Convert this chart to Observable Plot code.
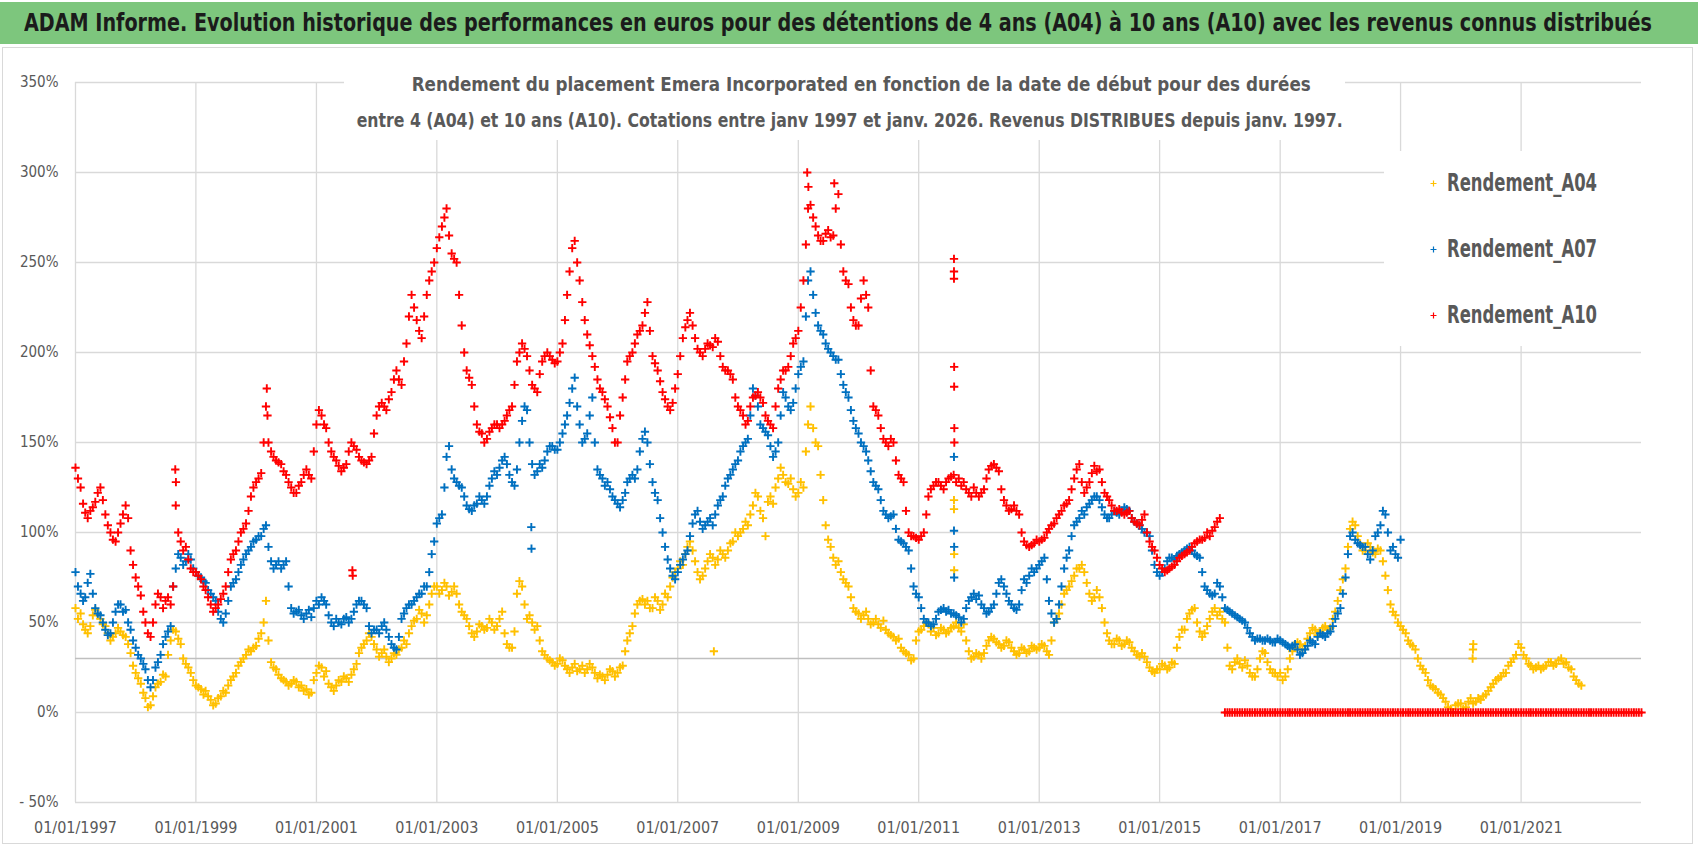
<!DOCTYPE html>
<html><head><meta charset="utf-8">
<script src="https://cdn.jsdelivr.net/npm/d3@7"></script>
<script src="https://cdn.jsdelivr.net/npm/@observablehq/plot@0.6"></script>
<style>
body{margin:0;background:#fff;}
#wrap{position:relative;width:1698px;height:857px;overflow:hidden;font-family:"Liberation Sans Narrow","Arial Narrow","DejaVu Sans Condensed",sans-serif;}
#banner{position:absolute;left:0;top:2px;width:1698px;height:42px;background:#7DC67D;}
#title{position:absolute;left:24px;top:2px;line-height:42px;font-weight:bold;font-size:25px;color:#1b1b1b;white-space:nowrap;transform-origin:0 50%;}
#frame{position:absolute;left:2px;top:47px;width:1689px;height:795px;border:1px solid #D9D9D9;}
#chart{position:absolute;left:0;top:48px;}
#subbox{position:absolute;left:344px;top:62px;width:1001px;height:78px;background:#fff;}
.sub{position:absolute;white-space:nowrap;font-weight:bold;font-size:20px;color:#595959;line-height:36px;transform-origin:50% 50%;}
#legend{position:absolute;left:1384px;top:151px;width:262px;height:195px;background:#fff;}
.lg{position:absolute;left:46px;height:32px;line-height:32px;font-weight:bold;font-size:25px;color:#595959;white-space:nowrap;}
.lg svg{position:absolute;left:0;top:13px;}
.lg span{position:absolute;left:17px;top:0;}
</style></head>
<body>
<div id="wrap">
  <div id="banner"></div>
  <div id="title">ADAM Informe. Evolution historique des performances en euros pour des détentions de 4 ans (A04) à 10 ans (A10) avec les revenus connus distribués</div>
  <div id="frame"></div>
  <div id="chart"></div>
  <div id="subbox"></div>
  <div class="sub" id="sub1">Rendement du placement Emera Incorporated en fonction de la date de début pour des durées</div>
  <div class="sub" id="sub2">entre 4 (A04) et 10 ans (A10). Cotations entre janv 1997 et janv. 2026. Revenus DISTRIBUES depuis janv. 1997.</div>
  <div id="legend"></div>
</div>
<script>
// ---- data (percent). Values on the 1st of each month, and values on the 16th ("Mid") ----
const seriesNames = ["Rendement_A04", "Rendement_A07", "Rendement_A10"];
const seriesColors = ["#FFC000", "#0070C0", "#FF0000"];

const a04Start = "1997-01-01";
const a04 = [
  58,55,46,48,57,52,48,40,44,45,42,33,
  22,16,8,4,14,17,20,40,45,38,27,22,
  15,13,12,7,5,9,11,18,22,28,32,34,
  37,44,62,28,24,19,17,16,17,15,13,11,
  22,25,23,14,15,17,19,21,27,36,40,42,
  35,33,31,30,32,36,38,48,52,55,54,66,
  70,68,70,67,66,56,52,44,45,48,47,50,
  48,56,38,36,66,70,52,50,48,34,30,28,
  27,29,24,25,23,26,24,25,19,20,21,23,
  22,26,40,48,60,63,62,58,62,60,64,75,
  80,82,92,90,78,76,84,86,85,88,90,95,
  98,102,104,115,120,108,117,116,130,132,127,124,
  122,125,160,158,148,118,96,86,84,74,70,58,
  55,54,52,50,49,51,44,42,41,34,32,30,
  45,48,49,47,44,46,45,48,47,49,34,31,
  32,33,40,41,38,37,39,34,33,35,34,36,
  36,37,32,50,55,66,70,76,80,78,66,64,
  64,50,40,38,40,38,39,34,31,31,25,22,
  24,26,25,27,42,46,55,58,45,44,52,58,
  56,50,26,28,27,29,22,20,30,33,24,22,
  22,20,30,36,38,37,44,46,45,48,47,56,
  68,80,102,104,94,90,92,88,90,76,60,54,
  48,44,38,35,26,22,15,13,10,6,2,4,
  5,3,8,6,7,10,14,18,20,22,28,32,
  36,30,26,25,24,26,28,27,30,28,24,18,
  15
];
const a04Mid = [
  52,49,44,54,54,49,44,42,47,43,38,26,
  19,11,3,9,16,21,32,46,41,30,25,18,
  14,10,9,4,8,12,15,20,26,30,35,36,
  41,50,40,25,21,18,15,18,14,12,10,18,
  26,20,16,12,18,20,17,24,33,38,44,38,
  31,35,28,33,35,40,44,51,57,50,60,70,
  66,72,65,70,60,54,48,42,49,46,52,46,
  52,44,36,45,73,60,54,46,40,32,29,26,
  30,26,22,27,24,22,27,22,21,18,24,20,
  25,34,44,55,62,60,58,64,57,66,70,78,
  84,88,95,84,74,80,88,82,90,86,94,100,
  100,106,110,122,112,98,120,125,136,128,130,120,
  128,145,170,150,132,104,92,82,78,72,64,56,
  52,56,49,52,47,46,43,40,36,33,29,40,
  46,50,45,43,47,44,47,50,45,40,30,33,
  30,37,42,39,36,40,36,32,36,33,37,35,
  38,34,40,52,60,68,73,80,82,72,62,68,
  58,44,38,41,37,40,36,32,33,28,23,24,
  27,24,28,36,46,52,57,50,42,48,56,54,
  52,36,24,30,25,26,20,24,34,28,22,20,
  18,24,34,39,35,41,47,43,47,46,52,62,
  74,92,106,98,90,94,89,91,84,68,56,50,
  46,40,37,30,24,18,14,11,8,3,0,5,
  2,6,5,8,9,12,16,19,22,26,30,38,
  32,27,24,26,25,28,26,29,27,25,20,16
];
const a04Extra = [["2007-08-08",34],["2011-08-03",118],["2011-08-03",113],["2011-08-04",88],["2011-08-04",79],["2020-03-13",30],["2020-03-15",35],["2020-03-17",38]];

const a07Start = "1997-01-01";
const a07 = [
  78,66,64,77,58,54,46,44,56,60,57,46,
  36,30,24,14,25,32,42,48,80,86,84,85,
  78,75,72,66,62,52,55,70,74,82,88,92,
  96,98,104,84,82,80,84,58,56,54,55,53,
  62,64,60,50,52,49,53,52,60,62,58,44,
  46,48,46,38,35,52,58,60,64,66,70,88,
  105,110,142,135,128,125,115,112,116,118,120,130,
  132,140,138,128,135,162,168,138,134,136,145,148,
  146,155,165,180,170,150,155,175,135,130,128,120,
  116,118,128,132,135,152,150,128,118,100,85,76,
  78,85,90,105,112,102,106,104,115,120,130,135,
  140,148,152,180,170,158,154,142,150,178,170,172,
  188,195,240,232,215,210,202,198,196,182,175,162,
  155,148,140,128,124,112,108,110,96,94,90,70,
  64,52,50,49,56,58,57,55,53,52,62,66,
  65,58,56,60,72,70,62,58,60,74,76,78,
  82,86,62,50,60,80,90,104,108,110,116,120,
  118,110,108,112,110,114,112,106,104,100,98,82,
  76,80,86,85,88,90,92,88,86,70,66,66,
  70,58,56,54,52,50,44,40,41,40,40,39,
  40,38,36,38,32,35,40,38,44,42,45,52,
  58,75,98,96,93,92,85,98,104,110,90,88,
  96
];
const a07Mid = [
  70,62,72,66,55,50,43,50,60,56,50,40,
  32,27,18,18,28,38,45,70,88,82,88,80,
  76,73,68,64,56,50,62,72,78,85,90,95,
  98,102,92,80,84,82,70,55,57,52,57,58,
  60,62,54,48,50,52,50,56,62,60,48,46,
  44,50,42,36,42,55,60,62,66,70,78,95,
  108,125,148,130,126,120,113,115,120,116,126,134,
  136,142,132,126,150,170,150,132,138,140,148,146,
  150,160,172,186,160,152,165,150,132,126,124,118,
  114,122,130,130,145,156,138,122,108,92,80,74,
  82,88,98,110,106,104,108,110,118,126,132,138,
  145,150,165,176,160,156,148,145,165,175,168,180,
  192,220,245,222,212,205,200,196,188,178,168,158,
  150,145,134,126,118,110,109,102,95,92,80,66,
  58,50,48,52,57,56,55,54,50,58,64,63,
  60,55,58,66,74,66,60,57,68,72,80,80,
  84,74,55,52,70,86,98,106,112,114,118,120,
  114,108,110,111,112,113,108,105,102,100,90,78,
  78,84,86,87,89,91,90,87,78,68,65,72,
  64,57,55,53,51,47,42,41,40,41,39,41,
  39,37,37,35,33,37,39,42,43,44,48,55,
  66,88,100,94,92,88,90,100,112,100,92,86
];
const a07Extra = [["2004-07-27",103],["2004-07-28",91],["2011-08-03",142],["2011-08-03",101],["2011-08-04",92],["2011-08-04",75]];

const a10Start = "1997-01-01";
const a10 = [
  136,125,111,112,117,125,110,100,95,105,115,90,
  75,65,50,42,60,64,62,60,115,95,92,80,
  78,74,68,60,58,63,70,85,90,100,105,120,
  128,133,170,145,140,138,132,125,122,128,135,130,
  160,165,158,145,140,134,138,150,146,140,138,142,
  165,172,168,178,190,182,205,232,218,208,232,245,
  258,270,280,255,250,215,190,182,160,155,152,158,
  160,160,165,170,195,205,198,182,178,195,200,196,
  195,205,232,258,250,228,210,198,185,178,170,158,
  150,175,195,200,210,215,228,198,190,178,170,172,
  188,208,218,215,202,198,205,203,206,192,190,185,
  170,165,162,175,178,172,162,158,180,190,192,205,
  212,240,280,275,265,262,268,265,288,245,238,218,
  215,240,225,170,165,152,148,150,132,128,100,98,
  96,100,120,126,128,124,130,132,130,128,122,125,
  120,124,135,138,134,118,112,115,110,95,92,94,
  95,97,102,105,110,115,118,130,138,122,128,137,
  135,122,118,112,113,110,112,106,104,110,95,90,
  82,78,80,82,86,88,90,94,96,97,98,103,
  108
];
const a10Mid = [
  130,116,108,114,122,118,104,96,100,110,108,82,
  70,56,44,50,66,58,64,70,100,90,85,78,
  76,70,64,56,60,66,78,88,95,102,112,125,
  130,150,150,142,139,134,128,122,126,132,132,145,
  168,160,150,142,137,136,145,148,142,139,140,155,
  170,170,174,185,185,195,220,225,212,220,240,250,
  264,275,265,252,232,200,186,170,156,150,156,160,
  158,162,168,182,200,202,190,180,188,198,198,194,
  200,218,245,262,240,218,204,192,180,174,164,150,
  165,185,198,205,212,222,212,194,184,174,168,180,
  198,214,222,208,200,202,204,208,198,190,188,175,
  168,160,170,176,175,165,160,170,185,190,198,208,
  225,260,282,270,262,266,264,280,260,240,225,215,
  230,232,190,168,158,150,152,140,130,112,98,97,
  98,110,124,128,126,128,131,128,126,124,120,122,
  122,130,137,136,124,115,113,112,100,93,93,96,
  96,100,104,108,112,116,124,135,128,125,133,134,
  128,120,115,112,111,111,108,105,107,100,92,86,
  80,79,81,84,87,89,92,95,96,100,101,106
];
const a10ZeroStart = "2016-02-01";
const a10Zero = [
  0,0,0,0,0,0,0,0,0,0,0,
  0,0,0,0,0,0,0,0,0,0,0,0,
  0,0,0,0,0,0,0,0,0,0,0,0,
  0,0,0,0,0,0,0,0,0,0,0,0,
  0,0,0,0,0,0,0,0,0,0,0,0,
  0,0,0,0,0,0,0,0,0,0,0,0,
  0,0,0,0,0,0,0,0,0,0,0,0,
  0
];
const a10ZeroMid = [
  0,0,0,0,0,0,0,0,0,0,0,
  0,0,0,0,0,0,0,0,0,0,0,0,
  0,0,0,0,0,0,0,0,0,0,0,0,
  0,0,0,0,0,0,0,0,0,0,0,0,
  0,0,0,0,0,0,0,0,0,0,0,0,
  0,0,0,0,0,0,0,0,0,0,0,0,
  0,0,0,0,0,0,0,0,0,0,0,0
];
const a10Extra = [["1998-08-29",135],["1998-09-02",128],["2000-03-06",180],["2000-03-10",165],["2001-08-07",79],["2001-08-09",76],["2009-02-24",300],["2009-03-03",292],["2009-08-07",294],["2011-08-03",252],["2011-08-03",245],["2011-08-03",241],["2011-08-04",192],["2011-08-04",181],["2011-08-05",158],["2011-08-05",150]];

const xTickYears = [1997,1999,2001,2003,2005,2007,2009,2011,2013,2015,2017,2019,2021];
const yTicks = [-50,0,50,100,150,200,250,300,350];
const xDomain = ["1997-01-01","2023-01-01"];
const refLine = 30;

// ---- build rows ----
const parse = s => new Date(s + "T00:00:00Z");
function monthly(values, start, day) {
  const t0 = parse(start);
  return values.map((v, i) => ({date: d3.utcDay.offset(d3.utcMonth.offset(t0, i), day), value: v}));
}
function extra(list) { return list.map(([d, v]) => ({date: parse(d), value: v})); }
const rows04 = [...monthly(a04, a04Start, 0), ...monthly(a04Mid, a04Start, 15), ...extra(a04Extra)];
const rows07 = [...monthly(a07, a07Start, 0), ...monthly(a07Mid, a07Start, 15), ...extra(a07Extra)];
const rows10 = [...monthly(a10, a10Start, 0), ...monthly(a10Mid, a10Start, 15),
                ...monthly(a10Zero, a10ZeroStart, 0), ...monthly(a10ZeroMid, a10ZeroStart, 15), ...extra(a10Extra)];
const xTicks = xTickYears.map(y => new Date(Date.UTC(y, 0, 1)));

const font = '"Liberation Sans Narrow","Arial Narrow","DejaVu Sans Condensed",sans-serif';
const dotOpts = (c) => ({x: "date", y: "value", symbol: "plus", r: 2.8, stroke: c, strokeWidth: 1.9});

const chart = Plot.plot({
  width: 1698, height: 809,
  marginLeft: 75, marginRight: 57, marginTop: 34, marginBottom: 55,
  x: {type: "utc", domain: xDomain.map(parse), label: null},
  y: {domain: [-50, 350], label: null},
  style: {fontFamily: font, fontSize: "16px", color: "#595959", background: "transparent"},
  marks: [
    Plot.gridX(xTicks, {stroke: "#D9D9D9", strokeOpacity: 1, strokeWidth: 1.3}),
    Plot.gridY(yTicks, {stroke: "#D9D9D9", strokeOpacity: 1, strokeWidth: 1.3}),
    Plot.ruleY([refLine], {stroke: "#BFBFBF", strokeWidth: 1.6}),
    Plot.dot(rows04, dotOpts(seriesColors[0])),
    Plot.dot(rows07, dotOpts(seriesColors[1])),
    Plot.dot(rows10, dotOpts(seriesColors[2])),
    Plot.axisX(xTicks, {tickFormat: d3.utcFormat("%d/%m/%Y"), tickSize: 0, tickPadding: 19, fontSize: 16, fill: "#595959", label: null}),
    Plot.axisY(yTicks, {tickFormat: d => d < 0 ? "- " + (-d) + "%" : d + "%", tickSize: 0, tickPadding: 17, fontSize: 15, fill: "#595959", label: null})
  ]
});
document.getElementById("chart").append(chart);

// ---- legend ----
const legend = document.getElementById("legend");
const legendY = [16, 82, 148];
seriesNames.forEach((name, i) => {
  const row = document.createElement("div");
  row.className = "lg";
  row.style.top = legendY[i] + "px";
  row.innerHTML = `<svg width="7" height="7"><path d="M3.5,0.5V6.5M0.5,3.5H6.5" stroke="${seriesColors[i]}" stroke-width="1.2"/></svg><span>${name}</span>`;
  legend.append(row);
});

// ---- fit texts to the widths measured on the reference ----
function fit(el, width) {
  const w = el.getBoundingClientRect().width;
  el.style.transform = `scaleX(${width / w})`;
}
fit(document.getElementById("title"), 1628);
function placeSub(el, cx, cy, width) {
  const w = el.getBoundingClientRect().width;
  el.style.left = (cx - w / 2) + "px";
  el.style.top = (cy - 18) + "px";
  el.style.transform = `scaleX(${width / w})`;
}
placeSub(document.getElementById("sub1"), 861, 84, 899);
placeSub(document.getElementById("sub2"), 850, 120, 986);
document.querySelectorAll(".lg span").forEach(sp => {
  const w = sp.getBoundingClientRect().width;
  sp.style.transformOrigin = "0 50%";
  sp.style.transform = `scaleX(${150 / w})`;
});
</script>
</body></html>
